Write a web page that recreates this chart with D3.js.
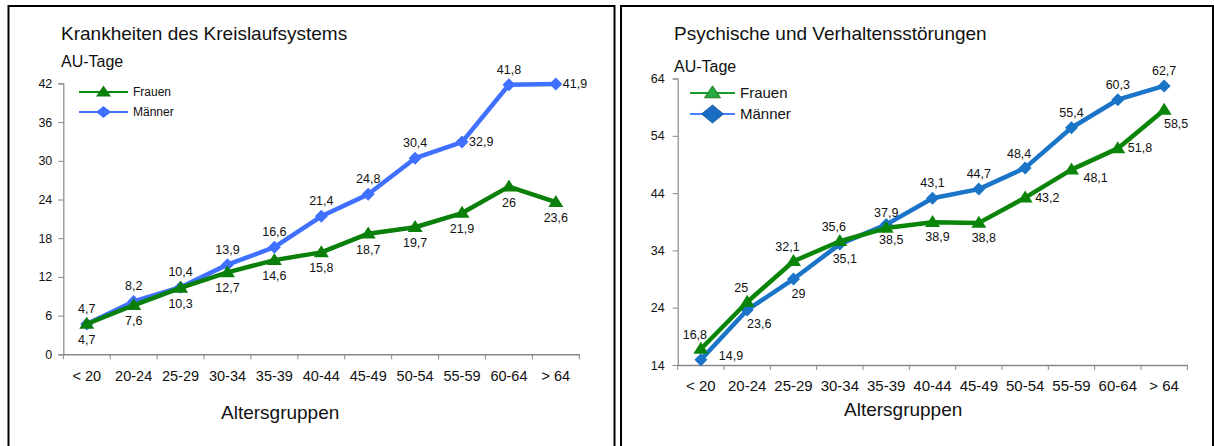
<!DOCTYPE html>
<html>
<head>
<meta charset="utf-8">
<script src="https://cdn.jsdelivr.net/npm/d3@7"></script>
<style>
  html, body { margin: 0; padding: 0; background: #fff; }
  svg { display: block; font-family: "Liberation Sans", Arial, sans-serif; }
</style>
</head>
<body>
<svg id="chart" width="1214" height="446"></svg>
<script>
// Age groups shared by both panels
const ageGroups = ['< 20', '20-24', '25-29', '30-34', '35-39', '40-44', '45-49', '50-54', '55-59', '60-64', '> 64'];

// AU-Tage: Krankheiten des Kreislaufsystems
const kreisFrauen  = [4.7, 7.6, 10.3, 12.7, 14.6, 15.8, 18.7, 19.7, 21.9, 26, 23.6];
const kreisMaenner = [4.7, 8.2, 10.4, 13.9, 16.6, 21.4, 24.8, 30.4, 32.9, 41.8, 41.9];
const kreisTicks   = [0, 6, 12, 18, 24, 30, 36, 42];

// AU-Tage: Psychische und Verhaltensstörungen
const psychFrauen  = [16.8, 25, 32.1, 35.6, 37.9, 38.9, 38.8, 43.2, 48.1, 51.8, 58.5];
const psychMaenner = [14.9, 23.6, 29, 35.1, 38.5, 43.1, 44.7, 48.4, 55.4, 60.3, 62.7];
const psychTicks   = [14, 24, 34, 44, 54, 64];

// Where each value label sits relative to its point
const kreisFrauenLabelPos  = ['below', 'below', 'below', 'below', 'below', 'below', 'below', 'below', 'below', 'below', 'below'];
const kreisMaennerLabelPos = ['above', 'above', 'above', 'above', 'above', 'above', 'above', 'above', 'right', 'above', 'right'];
const psychFrauenLabelPos  = ['aboveLeft', 'aboveLeft', 'aboveLeft', 'aboveLeft', 'above', 'below', 'below', 'right', 'lowRight', 'right', 'belowRight'];
const psychMaennerLabelPos = ['farRight', 'belowRight', 'below', 'below', 'below', 'above', 'above', 'aboveLeft', 'above', 'above', 'above'];

const fmt = v => String(v).replace('.', ',');
const svg = d3.select('#chart');

// Panel frames
svg.append('rect').attr('x', 8.5).attr('y', 6).attr('width', 606).attr('height', 460)
  .attr('fill', 'none').attr('stroke', '#000').attr('stroke-width', 2);
svg.append('rect').attr('x', 621).attr('y', 6).attr('width', 592).attr('height', 460)
  .attr('fill', 'none').attr('stroke', '#000').attr('stroke-width', 2);

function trianglePath(w, h) {
  return `M0,${-h * 0.6}L${w / 2},${h * 0.4}L${-w / 2},${h * 0.4}Z`;
}
function diamondPath(w, h) {
  return `M0,${-h / 2}L${w / 2},0L0,${h / 2}L${-w / 2},0Z`;
}

function drawPanel(cfg) {
  const g = svg.append('g');
  const x = d3.scaleBand().domain(ageGroups).range(cfg.xRange);
  const y = d3.scaleLinear().domain(cfg.yDomain).range(cfg.yRange);
  const cx = c => x(c) + x.bandwidth() / 2;

  // Title and unit
  g.append('text').attr('x', cfg.titlePos[0]).attr('y', cfg.titlePos[1])
    .attr('font-size', 19).attr('fill', '#111').text(cfg.title);
  g.append('text').attr('x', cfg.unitPos[0]).attr('y', cfg.unitPos[1])
    .attr('font-size', 16).attr('fill', '#111').text('AU-Tage');

  // Y axis
  const yAxis = g.append('g').attr('transform', `translate(${cfg.xRange[0]},0)`)
    .call(d3.axisLeft(y).tickValues(cfg.ticks).tickSize(5).tickPadding(cfg.yTickPad).tickFormat(d3.format('d')));
  yAxis.select('.domain').attr('stroke', '#888').attr('stroke-width', 1.2);
  yAxis.selectAll('.tick line').attr('stroke', '#888');
  yAxis.selectAll('text').attr('font-size', cfg.yTickFont).attr('fill', '#111')
    .attr('font-family', '"Liberation Sans", Arial, sans-serif');

  // X axis: labels at band centres, tick marks at band boundaries
  const xAxis = g.append('g').attr('transform', `translate(0,${cfg.yRange[0]})`)
    .call(d3.axisBottom(x).tickSize(0).tickPadding(0));
  xAxis.select('.domain').attr('stroke', '#888').attr('stroke-width', 1.5);
  xAxis.selectAll('text').attr('font-size', cfg.xTickFont).attr('fill', '#111')
    .attr('dy', null).attr('y', cfg.xLabelOffset)
    .attr('font-family', '"Liberation Sans", Arial, sans-serif');
  const bounds = ageGroups.map(c => x(c)).concat([cfg.xRange[1]]);
  xAxis.selectAll('line.bound').data(bounds).join('line').attr('class', 'bound')
    .attr('x1', d => d).attr('x2', d => d).attr('y1', 0).attr('y2', 5)
    .attr('stroke', '#888').attr('stroke-width', 1);

  g.append('text').attr('x', cfg.xTitlePos[0]).attr('y', cfg.xTitlePos[1])
    .attr('font-size', 19).attr('fill', '#111').text('Altersgruppen');

  const line = d3.line().x((d, i) => cx(ageGroups[i])).y(d => y(d));

  // Series (Männer underneath, Frauen on top)
  cfg.series.forEach(s => {
    g.append('path').datum(s.values).attr('d', line)
      .attr('fill', 'none').attr('stroke', s.color).attr('stroke-width', cfg.lineWidth)
      .attr('stroke-linejoin', 'round');
    g.selectAll(null).data(s.values).join('path')
      .attr('transform', (d, i) => `translate(${cx(ageGroups[i])},${y(d)})`)
      .attr('d', s.shape === 'triangle' ? trianglePath(cfg.triSize[0], cfg.triSize[1]) : diamondPath(cfg.diaSize, cfg.diaSize))
      .attr('fill', s.color);
  });

  // Value labels
  cfg.series.forEach(s => {
    g.selectAll(null).data(s.values).join('text')
      .attr('x', (d, i) => cx(ageGroups[i]) + cfg.labelOffsets[s.labelPos[i]][0])
      .attr('y', (d, i) => y(d) + cfg.labelOffsets[s.labelPos[i]][1])
      .attr('text-anchor', (d, i) => cfg.labelOffsets[s.labelPos[i]][2])
      .attr('font-size', cfg.labelFont).attr('fill', '#111')
      .text(d => fmt(d));
  });

  // Legend
  const lg = g.append('g');
  cfg.legend.forEach((it, k) => {
    const ly = cfg.legendPos[1] + k * cfg.legendGap;
    lg.append('line').attr('x1', cfg.legendPos[0]).attr('x2', cfg.legendPos[0] + cfg.legendLen)
      .attr('y1', ly).attr('y2', ly).attr('stroke', it.line).attr('stroke-width', 2);
    const mx = cfg.legendPos[0] + cfg.legendLen / 2;
    lg.append('path').attr('transform', `translate(${mx},${ly})`)
      .attr('d', it.shape === 'triangle' ? trianglePath(it.size[0], it.size[1]) : diamondPath(it.size[0], it.size[1]))
      .attr('fill', it.fill).attr('stroke', it.stroke || 'none').attr('stroke-width', 0.8);
    lg.append('text').attr('x', cfg.legendPos[0] + cfg.legendLen + 5).attr('y', ly + cfg.legendFont * 0.36)
      .attr('font-size', cfg.legendFont).attr('fill', '#111').text(it.name);
  });
}

const kreisGreen = '#0a800a', kreisBlue = '#4070ff';
drawPanel({
  title: 'Krankheiten des Kreislaufsystems',
  titlePos: [61, 40], unitPos: [61, 67], xTitlePos: [221, 419],
  xRange: [63.3, 579.3], yDomain: [0, 42], yRange: [354.3, 83.4], ticks: kreisTicks,
  yTickPad: 6, yTickFont: 12.5, xTickFont: 14.5, xLabelOffset: 26.4,
  lineWidth: 4.5, triSize: [15, 12], diaSize: 13, labelFont: 12.5,
  labelOffsets: {
    above: [0, -11, 'middle'], below: [0, 20, 'middle'], right: [7, 4, 'start']
  },
  series: [
    { values: kreisMaenner, color: kreisBlue, shape: 'diamond', labelPos: kreisMaennerLabelPos },
    { values: kreisFrauen, color: kreisGreen, shape: 'triangle', labelPos: kreisFrauenLabelPos }
  ],
  legendPos: [79, 92], legendGap: 20, legendLen: 49, legendFont: 12,
  legend: [
    { name: 'Frauen', line: '#0a8a0a', fill: '#0a800a', shape: 'triangle', size: [15, 11] },
    { name: 'Männer', line: '#4070ff', fill: '#4070ff', shape: 'diamond', size: [15, 12] }
  ]
});

const psychGreen = '#0a850a', psychBlue = '#1a74c8';
drawPanel({
  title: 'Psychische und Verhaltensstörungen',
  titlePos: [674, 40], unitPos: [674, 72], xTitlePos: [844, 416],
  xRange: [677.7, 1187.3], yDomain: [14, 64], yRange: [365, 78.5], ticks: psychTicks,
  yTickPad: 8, yTickFont: 12.5, xTickFont: 15, xLabelOffset: 25.7,
  lineWidth: 4.5, triSize: [15, 12], diaSize: 13, labelFont: 12.5,
  labelOffsets: {
    above: [0, -11, 'middle'], aboveLeft: [-6, -10, 'middle'], below: [5, 19, 'middle'],
    belowRight: [12, 18, 'middle'], right: [10, 4, 'start'], lowRight: [12, 12, 'start'],
    farRight: [18, 0, 'start']
  },
  series: [
    { values: psychMaenner, color: psychBlue, shape: 'diamond', labelPos: psychMaennerLabelPos },
    { values: psychFrauen, color: psychGreen, shape: 'triangle', labelPos: psychFrauenLabelPos }
  ],
  legendPos: [690, 93], legendGap: 21, legendLen: 45, legendFont: 15,
  legend: [
    { name: 'Frauen', line: '#1a9a2a', fill: '#2aaa40', stroke: '#0a6a0a', shape: 'triangle', size: [16, 12] },
    { name: 'Männer', line: '#4a80ff', fill: '#1a6cc4', stroke: '#0e4f96', shape: 'diamond', size: [22, 18] }
  ]
});
</script>
</body>
</html>
